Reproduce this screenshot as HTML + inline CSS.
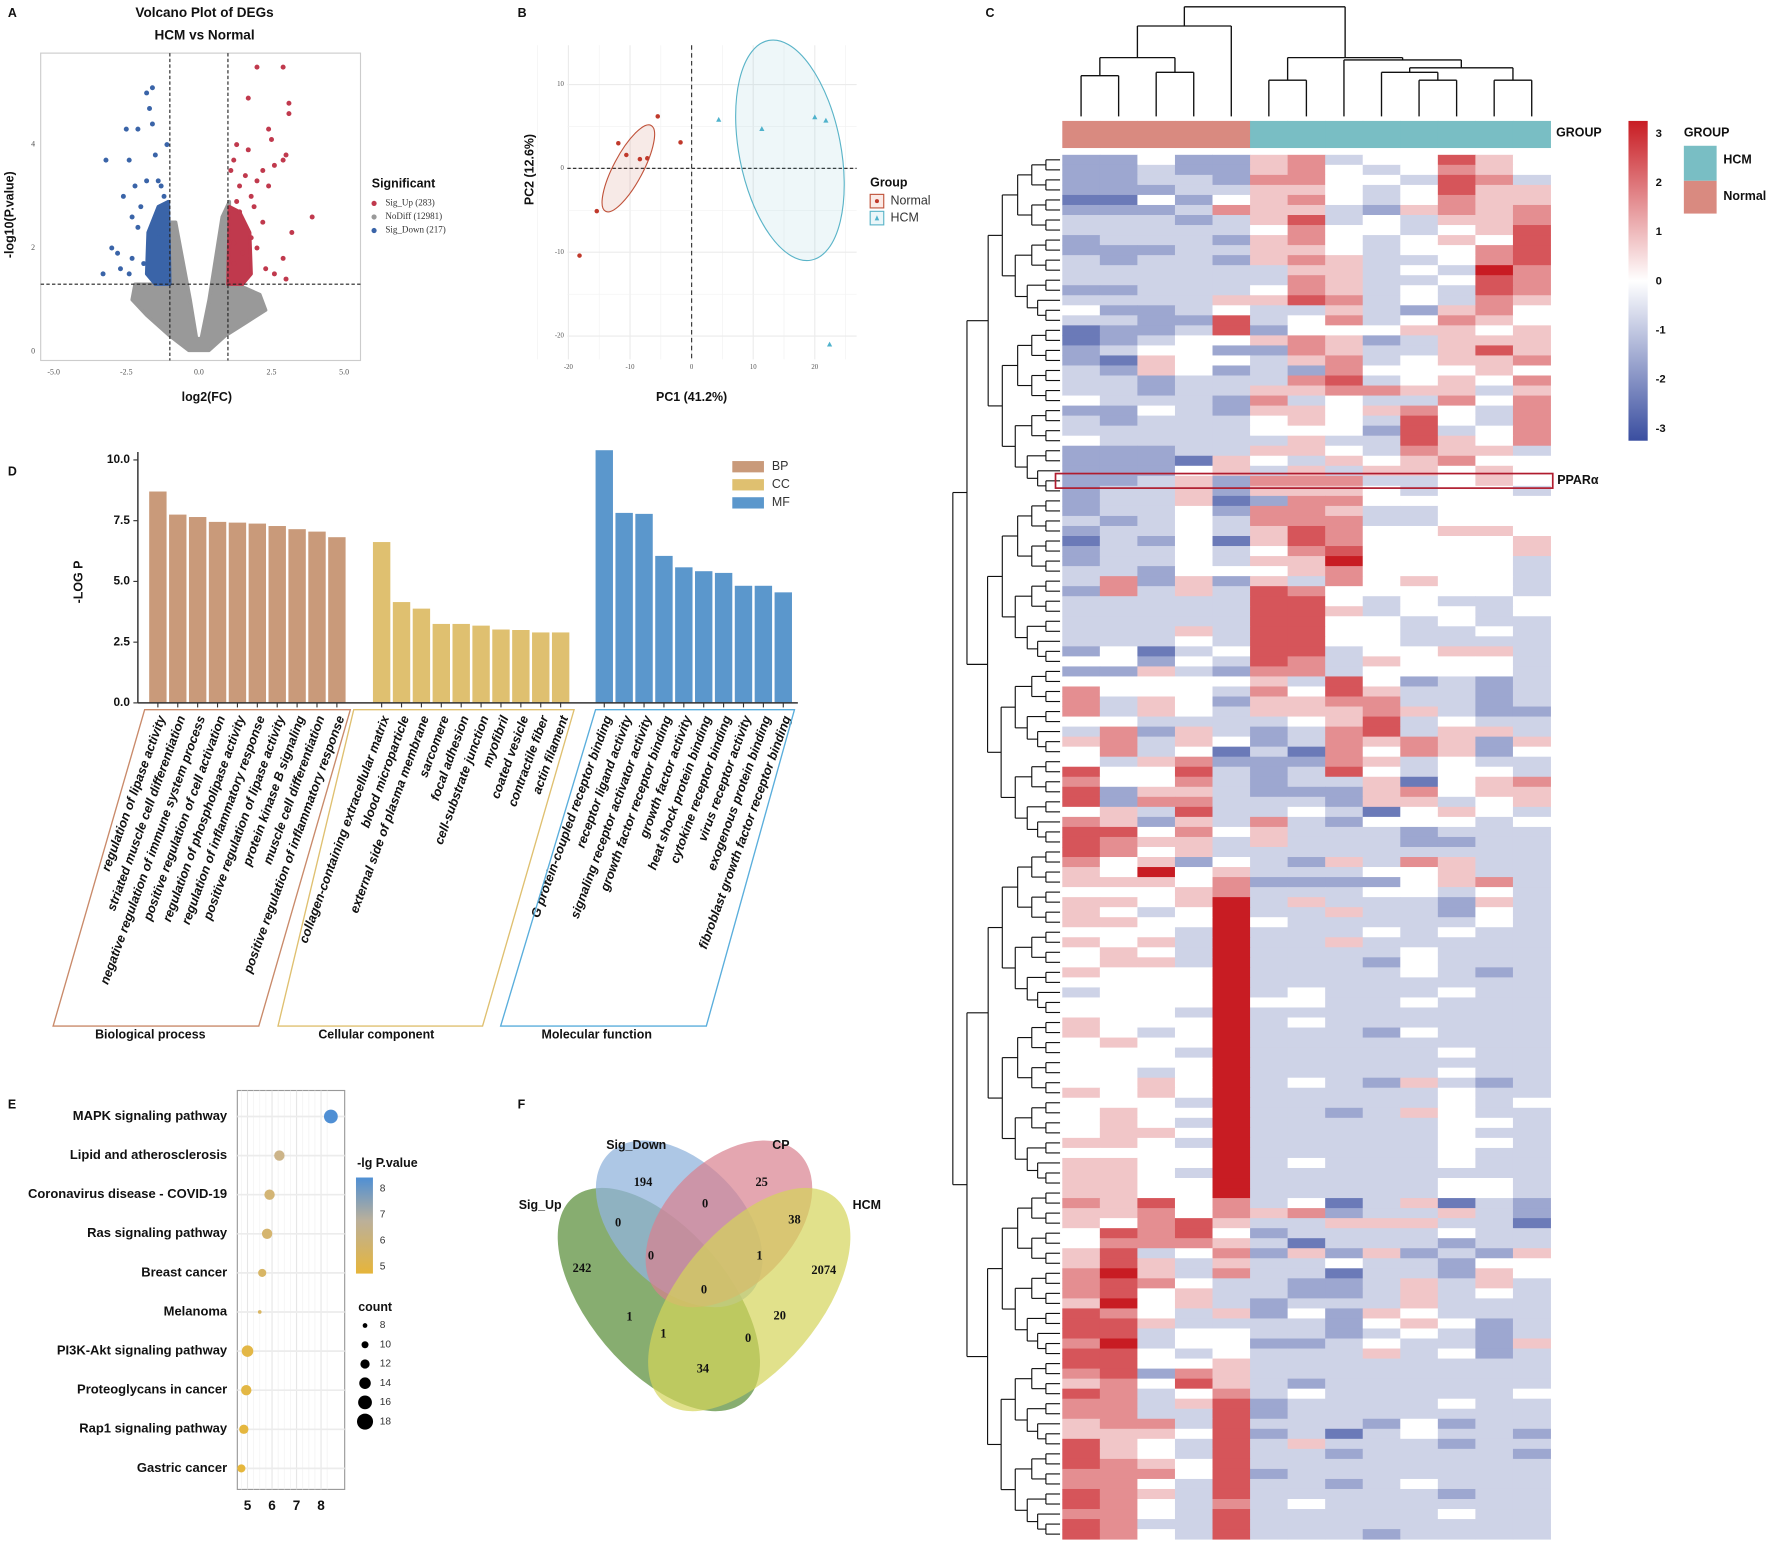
<!DOCTYPE html>
<html><head><meta charset="utf-8"><style>
html,body{margin:0;padding:0;background:#fff;}
svg{display:block;font-family:"Liberation Sans",sans-serif;}
</style></head><body>
<svg id="fig" width="1772" height="1551" viewBox="0 0 1568 1372.5" preserveAspectRatio="none" xmlns="http://www.w3.org/2000/svg"></svg>
<script>
// ---------- DATA ----------
// Volcano
const volUpX=[2.0,2.9,1.7,3.1,3.1,2.4,2.5,1.3,1.7,1.2,2.9,3.0,2.2,2.6,2.0,1.4,1.8,2.4,3.9,1.9,3.2,2.2,1.6,2.0,2.9,2.6,2.3,3.0,1.2,1.5,1.3,1.6,1.1,1.4,1.8,1.2];
const volUpY=[5.5,5.5,4.9,4.8,4.6,4.3,4.1,4.0,3.9,3.7,3.7,3.8,3.5,3.6,3.3,3.2,3.0,3.2,2.6,2.8,2.3,2.5,2.4,2.0,1.8,1.5,1.6,1.4,2.1,1.9,2.9,3.4,3.5,2.7,2.2,1.7];
const volDnX=[-1.8,-1.6,-1.7,-2.1,-2.5,-1.6,-3.2,-2.4,-1.5,-1.8,-2.2,-1.3,-2.6,-2.0,-2.3,-1.5,-2.1,-3.0,-2.8,-2.3,-2.7,-3.3,-2.4,-1.9,-1.4,-1.2,-1.2,-1.4,-1.1];
const volDnY=[5.0,5.1,4.7,4.3,4.3,4.4,3.7,3.7,3.8,3.3,3.2,3.2,3.0,2.8,2.6,2.6,2.4,2.0,1.9,1.8,1.6,1.5,1.5,1.7,2.2,1.9,3.0,3.3,4.0];
const volGreyPolyX=[-1.05,-0.8,-0.3,-0.08,0.08,0.35,0.8,1.05,1.05,1.5,2.1,2.3,1.6,0.9,0.35,-0.35,-1.0,-1.8,-2.3,-2.2,-1.05];
const volGreyPolyY=[2.5,2.5,1.0,0.25,0.25,1.0,2.6,2.9,1.3,1.25,1.1,0.8,0.55,0.3,0.02,0.02,0.3,0.7,1.0,1.3,1.3];
const volRedPolyX=[1.0,1.05,1.4,1.75,1.8,1.5,1.0];
const volRedPolyY=[1.3,2.8,2.7,2.3,1.5,1.3,1.3];
const volBluePolyX=[-1.0,-1.05,-1.4,-1.75,-1.8,-1.5,-1.0];
const volBluePolyY=[1.3,2.9,2.8,2.3,1.5,1.3,1.3];
const volXTicks=[-5,-2.5,0,2.5,5];
const volXTickLabels=["-5.0","-2.5","0.0","2.5","5.0"];
const volYTicks=[0,2,4];
// PCA
const pcaNormalX=[-5.5,-11.9,-1.8,-10.6,-8.4,-7.2,-15.4,-18.2];
const pcaNormalY=[6.2,3.0,3.1,1.6,1.1,1.2,-5.1,-10.4];
const pcaHcmX=[4.4,11.4,20.0,21.8,22.4];
const pcaHcmY=[5.8,4.7,6.1,5.7,-21.0];
const pcaTicks=[-20,-10,0,10,20];
// Heatmap (digits: value=(d-4)*0.75)
const heatRows=[
"2242256344754","2232256434654","2233266443763","2223355434755","1142456434655",
"2223655325656","3332357343556","3333346443457","2333256434547","2223355434467",
"3233256533467","3333335534386","3333336533476","2233346534376","3333557634365",
"4223433532564","3322734634654","1223724445545","1234456523555","2344226533575",
"2154435634556","3254232644454","3323336734546","3323355665535","4333263433646",
"2243255456436","3233345437436","3333344427346","4333335337546","2223355436553",
"2221543545644","2224535355454","2235266633454","2335255543443",
"2335126644444","2334266533444","3234366633444","2334357644554","1324157644445",
"2334346744445","2334355844443","3324445644443","3625253645443","2635376444443",
"3333377434334","3333377534434","3333377443433","3335377443343","3334377443333",
"2413477344553","4424376354443","2253266344443","4444453742323","6444364753323",
"6354255663323","6354355565322","4433334573433","3625323673553","5635423656525",
"4634131646524","4356222653433","7447323743443","6446323351456","7255322256455",
"7266333255345","4537334314543","6525363244434","7746453332333","7655353332233",
"7645333333333","6452432536533","5484533344533","5554622224563","4445633344343",
"5545835333253","5434833533243","5544843333343","4443833343433","5453833533333",
"4543833334333","4553833324333","5444833334323","4444833333333","3444834333433",
"4444844334333","4443833333333","5444834333333","5434833324333","4544833333333",
"4443833333433","4444833333333","4434833333433","4454834325323","5454833333433",
"4443833333434","4544833235433","4543833333443","4554833333433","5543833333443",
"4444833333433","5544834333433","5543833333333","5544833333443","5544833333443",
"6574634135132","5564656233532","5467533555331","4767423333433","4666531333233",
"5734625252325","5753533433244","6853633133254","6764332235353","6745332235343",
"5845323335333","7643524254333","7753333245423","7734433234323","6834422343325",
"7743433353423","7744533333333","6726533333333","5647532333333","7634634333334",
"6635723333433","6633723333333","5663733324233","5554723134332","7543735333233",
"7543733233332","7654733333333","6664723333333","6643733234333","7653733333233",
"7643634333333","6643733333433","7633733333333","7643733323333"];
const heatColGroups=["Normal","Normal","Normal","Normal","Normal","HCM","HCM","HCM","HCM","HCM","HCM","HCM","HCM"];
const heatScaleTicks=[3,2,1,0,-1,-2,-3];
// GO enrichment
const goBPLabels=["regulation of lipase activity","striated muscle cell differentiation","negative regulation of immune system process","positive regulation of cell activation","regulation of phospholipase activity","regulation of inflammatory response","positive regulation of lipase activity","protein kinase B signaling","muscle cell differentiation","positive regulation of inflammatory response"];
const goBPValues=[8.7,7.75,7.65,7.45,7.42,7.38,7.28,7.15,7.05,6.82];
const goCCLabels=["collagen-containing extracellular matrix","blood microparticle","external side of plasma membrane","sarcomere","focal adhesion","cell-substrate junction","myofibril","coated vesicle","contractile fiber","actin filament"];
const goCCValues=[6.62,4.15,3.88,3.25,3.25,3.18,3.02,3.0,2.9,2.9];
const goMFLabels=["G protein-coupled receptor binding","receptor ligand activity","signaling receptor activator activity","growth factor receptor binding","growth factor activity","heat shock protein binding","cytokine receptor binding","virus receptor activity","exogenous protein binding","fibroblast growth factor receptor binding"];
const goMFValues=[10.4,7.82,7.78,6.05,5.58,5.42,5.35,4.82,4.82,4.55];
const goTicks=[0,2.5,5,7.5,10];
// KEGG
const keggLabels=["MAPK signaling pathway","Lipid and atherosclerosis","Coronavirus disease - COVID-19","Ras signaling pathway","Breast cancer","Melanoma","PI3K-Akt signaling pathway","Proteoglycans in cancer","Rap1 signaling pathway","Gastric cancer"];
const keggLgP=[8.4,6.3,5.9,5.8,5.6,5.5,5.0,4.95,4.85,4.75];
const keggCount=[16,13,13,13,11,7,14,13,12,11];
const keggXTicks=[5,6,7,8];
const keggCountLegend=[8,10,12,14,16,18];
// Venn
const vennSetNames=["Sig_Up","Sig_Down","CP","HCM"];
const vennCounts=["194","25","0","0","38","0","1","242","2074","0","1","20","1","0","34"];

// ---------- HELPERS ----------
const NS="http://www.w3.org/2000/svg";
const svg=document.getElementById('fig');
function mk(tag,attrs,parent){const e=document.createElementNS(NS,tag);for(const k in attrs)e.setAttribute(k,attrs[k]);(parent||svg).appendChild(e);return e;}
function txt(s,x,y,o,parent){o=o||{};const e=mk('text',{x:x,y:y,'font-size':o.fs||11,'font-weight':o.fw||'bold','text-anchor':o.a||'start',fill:o.fill||'#111','dominant-baseline':'middle'},parent);if(o.ff)e.setAttribute('font-family',o.ff);if(o.it)e.setAttribute('font-style','italic');if(o.tr)e.setAttribute('transform',o.tr);e.textContent=s;return e;}
function g(name){const e=mk('g',{});return e;}

// ---------- PANEL A ----------
(function(){
const G=g('volcano-panel');
const vx=v=>176+v*25.7, vy=v=>311-v*45.75;
let t=txt('A',7,12,{fs:11},G);
t=txt('Volcano Plot of DEGs',181,12,{fs:12,a:'middle'},G);
t=txt('HCM vs Normal',181,32,{fs:12,a:'middle'},G);
let r=mk('rect',{x:36,y:47,width:283,height:272,fill:'#fff',stroke:'#ccc','stroke-width':1},G);
const poly=(xs,ys,fill,name)=>{const p=mk('polygon',{points:xs.map((x,i)=>vx(x)+','+vy(ys[i])).join(' '),fill:fill,stroke:fill,'stroke-width':3,'stroke-linejoin':'round'},G);};
poly(volGreyPolyX,volGreyPolyY,'#999','nodiff-point-cloud');
poly(volRedPolyX,volRedPolyY,'#c0394d','sig-up-dense-cloud');
poly(volBluePolyX,volBluePolyY,'#3a64a8','sig-down-dense-cloud');
volUpX.forEach((x,i)=>{const c=mk('circle',{cx:vx(x),cy:vy(volUpY[i]),r:2.2,fill:'#c0394d'},G);});
volDnX.forEach((x,i)=>{const c=mk('circle',{cx:vx(x),cy:vy(volDnY[i]),r:2.2,fill:'#3a64a8'},G);});
[[vx(-1),47,vx(-1),319],[vx(1),47,vx(1),319],[36,vy(1.3),319,vy(1.3)]].forEach(l=>{const e=mk('line',{x1:l[0],y1:l[1],x2:l[2],y2:l[3],stroke:'#222','stroke-width':1,'stroke-dasharray':'3,2'},G);});
volXTicks.forEach((v,i)=>{const e=txt(volXTickLabels[i],vx(v),330,{fs:7,fw:'normal',a:'middle',ff:'Liberation Serif',fill:'#555'},G);});
volYTicks.forEach(v=>{const e=txt(String(v),31,vy(v),{fs:7,fw:'normal',a:'end',ff:'Liberation Serif',fill:'#555'},G);});
t=txt('log2(FC)',183,352,{fs:11,a:'middle'},G);
t=txt('-log10(P.value)',9,190,{fs:11,a:'middle',tr:'rotate(-90 9 190)'},G);
t=txt('Significant',329,163,{fs:11},G);
[['Sig_Up (283)','#c0394d'],['NoDiff (12981)','#999'],['Sig_Down (217)','#3a64a8']].forEach((e,i)=>{const c=mk('circle',{cx:331,cy:180+i*12,r:2.3,fill:e[1]},G);const tt=txt(e[0],341,180+i*12,{fs:8,fw:'normal',ff:'Liberation Serif',fill:'#333'},G);});
})();

// ---------- PANEL B ----------
(function(){
const G=g('pca-panel');
const px=v=>612+v*5.45, py=v=>149-v*7.42;
let t=txt('B',458,12,{fs:11},G);
[15,5,-5,-15].concat(pcaTicks.slice(1,4).map(v=>v)).forEach(()=>{});
[-25,-15,-5,5,15,25].forEach(v=>{const l=mk('line',{x1:px(v),y1:40,x2:px(v),y2:318,stroke:'#f2f2f2','stroke-width':0.6},G);});
pcaTicks.forEach(v=>{let l=mk('line',{x1:px(v),y1:40,x2:px(v),y2:318,stroke:'#ebebeb','stroke-width':1},G);
 if(v>=-20&&v<=10){l=mk('line',{x1:502,y1:py(v),x2:758,y2:py(v),stroke:'#ebebeb','stroke-width':1},G);}});
[-15,-5,5].forEach(v=>{const l=mk('line',{x1:502,y1:py(v),x2:758,y2:py(v),stroke:'#f2f2f2','stroke-width':0.6},G);});
let e=mk('line',{x1:px(0),y1:40,x2:px(0),y2:318,stroke:'#333','stroke-width':1,'stroke-dasharray':'4,3'},G);
e=mk('line',{x1:502,y1:py(0),x2:758,y2:py(0),stroke:'#333','stroke-width':1.2,'stroke-dasharray':'3,2'},G);
e=mk('ellipse',{cx:556,cy:149,rx:43,ry:13,transform:'rotate(-62 556 149)',fill:'#c0533b','fill-opacity':0.12,stroke:'#c0533b','stroke-width':1},G);
e=mk('ellipse',{cx:699,cy:133,rx:99,ry:45,transform:'rotate(79 699 133)',fill:'#5ab4c8','fill-opacity':0.1,stroke:'#5ab4c8','stroke-width':1},G);
pcaNormalX.forEach((x,i)=>{const c=mk('circle',{cx:px(x),cy:py(pcaNormalY[i]),r:2,fill:'#c0392b'},G);});
pcaHcmX.forEach((x,i)=>{const X=px(x),Y=py(pcaHcmY[i]);const c=mk('polygon',{points:`${X},${Y-2.5} ${X-2.3},${Y+1.8} ${X+2.3},${Y+1.8}`,fill:'#4fb2cc'},G);});
pcaTicks.forEach(v=>{let l=txt(String(v),px(v),325,{fs:6,fw:'normal',a:'middle',ff:'Liberation Serif',fill:'#555'},G);
 if(v>=-20&&v<=10){l=txt(String(v),499,py(v),{fs:6,fw:'normal',a:'end',ff:'Liberation Serif',fill:'#555'},G);}});
t=txt('PC1 (41.2%)',612,352,{fs:11,a:'middle'},G);
t=txt('PC2 (12.6%)',469,150,{fs:11,a:'middle',tr:'rotate(-90 469 150)'},G);
t=txt('Group',770,162,{fs:11},G);
let b=mk('rect',{x:770,y:172,width:12,height:12,fill:'#fbeae6',stroke:'#c0533b','stroke-width':1},G);
b=mk('circle',{cx:776,cy:178,r:1.8,fill:'#c0392b'},G);
b=mk('rect',{x:770,y:187,width:12,height:12,fill:'#eaf6f9',stroke:'#5ab4c8','stroke-width':1},G);
b=mk('polygon',{points:'776,190.5 774,195 778,195',fill:'#4fb2cc'},G);
t=txt('Normal',788,178,{fs:11,fw:'normal',fill:'#333'},G);
t=txt('HCM',788,193,{fs:11,fw:'normal',fill:'#333'},G);
})();

// ---------- PANEL C ----------
(function(){
const G=g('heatmap-panel');
const X0=940,X1=1372,Y0=137,Y1=1362,nC=13,nR=heatRows.length;
const cw=(X1-X0)/nC, rh=(Y1-Y0)/nR;
const col=v=>{let t=Math.min(1,Math.abs(v)/3);const tgt=v<0?[58,78,160]:[200,28,35];return `rgb(${Math.round(255+(tgt[0]-255)*t)},${Math.round(255+(tgt[1]-255)*t)},${Math.round(255+(tgt[2]-255)*t)})`;};
let t=txt('C',872,12,{fs:11},G);
heatRows.forEach((row,ri)=>{for(let ci=0;ci<nC;ci++){const v=(parseInt(row[ci])-4)*0.75;const c=mk('rect',{x:X0+ci*cw,y:Y0+ri*rh,width:cw+0.4,height:rh+0.4,fill:col(v)},G);}});
heatColGroups.forEach((gname,ci)=>{const c=mk('rect',{x:X0+ci*cw,y:107,width:cw+0.4,height:24,fill:gname==='Normal'?'#d98a80':'#79bec4'},G);});
t=txt('GROUP',1377,118,{fs:11},G);
// column dendrogram
const cx=i=>X0+cw*(i+0.5);
const segs=[];
function join(xa,ya,xb,yb,h){segs.push([xa,ya,xa,h],[xb,yb,xb,h],[xa,h,xb,h]);return (xa+xb)/2;}
const L=103;
let a=join(cx(0),L,cx(1),L,67), b=join(cx(2),L,cx(3),L,64);
let ab=join(a,67,b,64,51); let n=join(ab,51,cx(4),L,23);
let h56=join(cx(5),L,cx(6),L,71);
let h910=join(cx(9),L,cx(10),L,71); let h8=join(cx(8),L,h910,71,64);
let h1112=join(cx(11),L,cx(12),L,71); let hr=join(h8,64,h1112,71,60);
let h7=join(cx(7),L,hr,60,53); let hc=join(h56,71,h7,53,51);
join(n,23,hc,51,6);
segs.forEach(s=>{const l=mk('line',{x1:s[0],y1:s[1],x2:s[2],y2:s[3],stroke:'#111','stroke-width':1.2},G);});
// row dendrogram (structural)
function rd(lo,hi){if(hi-lo===1)return {y:Y0+(lo+0.5)*rh,x:938};const m=Math.floor((lo+hi)/2);const A=rd(lo,m),B=rd(m,hi);const x=938-12.5*Math.log2(hi-lo)-(hi-lo>60?6:0);
 [[A.x,A.y,x,A.y],[B.x,B.y,x,B.y],[x,A.y,x,B.y]].forEach(s=>{const l=mk('line',{x1:s[0],y1:s[1],x2:s[2],y2:s[3],stroke:'#111','stroke-width':1},G);});return {x:x,y:(A.y+B.y)/2};}
rd(0,nR);
// PPAR highlight
let pr=mk('rect',{x:934,y:Y0+32*rh-2,width:440,height:rh+4,fill:'none',stroke:'#b01c2e','stroke-width':1.5},G);
t=txt('PPARα',1378,Y0+32.5*rh,{fs:11},G);
// color bar
const grad=mk('linearGradient',{id:'hmgrad',x1:0,y1:0,x2:0,y2:1},mk('defs',{},G));
[[0,'#c81c23'],[0.5,'#ffffff'],[1,'#3a4ea0']].forEach(s=>mk('stop',{offset:s[0],'stop-color':s[1]},grad));
let cb=mk('rect',{x:1441,y:107,width:17,height:283,fill:'url(#hmgrad)'},G);
heatScaleTicks.forEach(v=>{const y=249-v*43.5;const e=txt(String(v),1465,y,{fs:10},G);});
t=txt('GROUP',1490,118,{fs:11},G);
let k=mk('rect',{x:1490,y:129,width:29,height:31,fill:'#79bec4'},G);
k=mk('rect',{x:1490,y:160,width:29,height:29,fill:'#d98a80'},G);
t=txt('HCM',1525,142,{fs:11},G);
t=txt('Normal',1525,174,{fs:11},G);
})();

// ---------- PANEL D ----------
(function(){
const G=g('go-enrichment-panel');
const yv=v=>622-v*21.5;
let t=txt('D',7,418,{fs:11},G);
const groups=[[goBPLabels,goBPValues,132,'#c99a7a','bp'],[goCCLabels,goCCValues,330,'#dfc070','cc'],[goMFLabels,goMFValues,527,'#5b97cc','mf']];
const pitch=17.6,bw=15.4;
groups.forEach(gr=>{gr[1].forEach((v,i)=>{const x=gr[2]+i*pitch;const r=mk('rect',{x:x,y:yv(v),width:bw,height:622-yv(v),fill:gr[3]},G);
 const tk=mk('line',{x1:x+bw/2,y1:622,x2:x+bw/2,y2:626,stroke:'#333','stroke-width':1},G);
 const lx=x+bw/2+4,ly=634;const l=txt(gr[0][i],lx,ly,{fs:11.3,a:'end',it:true,tr:`rotate(-70 ${lx} ${ly})`},G);});});
let ax=mk('line',{x1:122,y1:400,x2:122,y2:622,stroke:'#333','stroke-width':1.3},G);
ax=mk('line',{x1:122,y1:622,x2:706,y2:622,stroke:'#333','stroke-width':1.3},G);
goTicks.forEach(v=>{const l=mk('line',{x1:118,y1:yv(v),x2:122,y2:yv(v),stroke:'#333'},G);const e=txt(v.toFixed(1),115,yv(v),{fs:10.5,a:'end'},G);});
t=txt('-LOG P',70,515,{fs:11,a:'middle',tr:'rotate(-90 70 515)'},G);
[['BP','#c99a7a'],['CC','#dfc070'],['MF','#5b97cc']].forEach((e,i)=>{const r=mk('rect',{x:648,y:408+i*16,width:28,height:10,fill:e[1]},G);const tt=txt(e[0],683,413+i*16,{fs:11,fw:'normal',fill:'#333'},G);});
[[[128,628],[310,628],[229,908],[47,908],'#c98a6a','bp-category-frame'],[[313,628],[508,628],[427,908],[246,908],'#dfc070','cc-category-frame'],[[527,628],[703,628],[625,908],[443,908],'#5aaedc','mf-category-frame']].forEach(p=>{const e=mk('polygon',{points:p.slice(0,4).map(q=>q.join(',')).join(' '),fill:'none',stroke:p[4],'stroke-width':1.2},G);});
[['Biological process',133],['Cellular component',333],['Molecular function',528]].forEach(e=>{const tt=txt(e[0],e[1],916,{fs:11,a:'middle'},G);});
})();

// ---------- PANEL E ----------
(function(){
const G=g('kegg-bubble-panel');
const xv=v=>219+(v-5)*21.7;
const rowY=i=>988+i*34.6;
const rad=c=>1.6+(c-7)*0.5;
const colr=v=>{const t=Math.max(0,Math.min(1,(v-4.8)/3.5));const a=[230,183,60],b=[79,143,212],m=[200,180,150];let c;if(t<0.5){const s=t/0.5;c=a.map((x,i)=>x+(m[i]-x)*s);}else{const s=(t-0.5)/0.5;c=m.map((x,i)=>x+(b[i]-x)*s);}return `rgb(${c.map(Math.round).join(',')})`;};
let t=txt('E',7,978,{fs:11},G);
let r=mk('rect',{x:210,y:965,width:95,height:353,fill:'#fff',stroke:'#999','stroke-width':1},G);
[4.75,5.25,5.5,5.75,6.25,6.5,6.75,7.25,7.5,7.75,8.25].forEach(v=>{const l=mk('line',{x1:xv(v),y1:965,x2:xv(v),y2:1318,stroke:'#f3f3f3','stroke-width':0.7},G);});
keggXTicks.forEach(v=>{const l=mk('line',{x1:xv(v),y1:965,x2:xv(v),y2:1318,stroke:'#e6e6e6','stroke-width':1},G);const e=txt(String(v),xv(v),1333,{fs:12},G);e.setAttribute('text-anchor','middle');});
keggLabels.forEach((lab,i)=>{const l=mk('line',{x1:210,y1:rowY(i),x2:305,y2:rowY(i),stroke:'#ececec','stroke-width':1.5},G);
 const e=txt(lab,201,rowY(i),{fs:11.5,a:'end'},G);
 const c=mk('circle',{cx:xv(keggLgP[i]),cy:rowY(i),r:rad(keggCount[i]),fill:colr(keggLgP[i])},G);});
t=txt('-lg P.value',316,1030,{fs:11},G);
const gd=mk('linearGradient',{id:'kgrad',x1:0,y1:0,x2:0,y2:1},mk('defs',{},G));
[[0,'#4f8fd4'],[0.45,'#bbb09a'],[1,'#e6b53a']].forEach(s=>mk('stop',{offset:s[0],'stop-color':s[1]},gd));
r=mk('rect',{x:315,y:1042,width:15,height:85,fill:'url(#kgrad)'},G);
[8,7,6,5].forEach((v,i)=>{const e=txt(String(v),336,1052+i*23,{fs:9,fw:'normal',fill:'#333'},G);});
t=txt('count',317,1157,{fs:11},G);
keggCountLegend.forEach((c,i)=>{const y=1173+i*17;const d=mk('circle',{cx:323,cy:y,r:rad(c),fill:'#000'},G);const e=txt(String(c),336,y,{fs:9,fw:'normal',fill:'#333'},G);});
})();

// ---------- PANEL F ----------
(function(){
const G=g('venn-panel');
let t=txt('F',458,978,{fs:11},G);
const ells=[[583,1150,118,62,50,'#5f9140',0.75,'sig-up-ellipse'],[601,1083,88,56,45,'#92b4dc',0.75,'sig-down-ellipse'],[645,1083,88,56,-45,'#d9808e',0.7,'cp-ellipse'],[663,1150,118,62,-50,'#d4d45a',0.7,'hcm-ellipse']];
ells.forEach(e=>{const el=mk('ellipse',{cx:e[0],cy:e[1],rx:e[2],ry:e[3],transform:`rotate(${e[4]} ${e[0]} ${e[1]})`,fill:e[5],'fill-opacity':e[6]},G);});
const namePos=[[478,1067],[563,1014],[691,1014],[767,1067]];
vennSetNames.forEach((n,i)=>{const e=txt(n,namePos[i][0],namePos[i][1],{fs:11,a:'middle'},G);});
const cpos=[[569,1047],[674,1047],[624,1066],[547,1083],[703,1080],[576,1112],[672,1112],[515,1123],[729,1125],[623,1142],[557,1166],[690,1165],[587,1181],[662,1185],[622,1212]];
vennCounts.forEach((c,i)=>{const e=txt(c,cpos[i][0],cpos[i][1],{fs:11,a:'middle',ff:'Liberation Serif'},G);});
})();
</script>
</body></html>
